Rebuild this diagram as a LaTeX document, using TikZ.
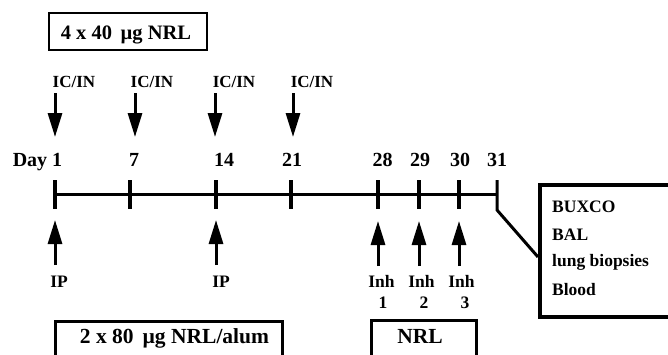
\documentclass[tikz,border=0pt]{standalone}
\usepackage{fontspec}
\setmainfont{Liberation Serif}
\usetikzlibrary{arrows.meta}
\tikzset{
  lbl/.style={inner sep=0pt, font=\bfseries\fontsize{17}{17}\selectfont, anchor=base},
  small/.style={inner sep=0pt, font=\bfseries\fontsize{17.5}{17.5}\selectfont, anchor=base},
  daylbl/.style={inner sep=0pt, font=\bfseries\fontsize{20}{20}\selectfont, anchor=base},
  boxtxt/.style={inner sep=0pt, font=\bfseries\fontsize{21.5}{21.5}\selectfont, anchor=base},
  res/.style={inner sep=0pt, font=\bfseries\fontsize{17.5}{17.5}\selectfont, anchor=base west},
  darrow/.style={line width=3pt, -{Triangle[width=14pt,length=24pt]}},
  tick/.style={line width=4pt},
}
\begin{document}
\begin{tikzpicture}[x=1pt,y=-1pt]
\useasboundingbox (0,0) rectangle (668,354);
\clip (0,0) rectangle (668,354);
% top box
\node[draw, line width=2pt, minimum width=158pt, minimum height=37pt, inner sep=0pt] (topbox) at (128,31.5) {};
\node[boxtxt, font=\bfseries\fontsize{20.5}{20.5}\selectfont] (toptxt) at (126,39) {4 x 40 \,µg NRL};
% IC/IN labels
\node[lbl] (ic1) at (74,87) {IC/IN};
\node[lbl] (ic2) at (152,87) {IC/IN};
\node[lbl] (ic3) at (234,87) {IC/IN};
\node[lbl] (ic4) at (312,87) {IC/IN};
% top arrows
\foreach \i/\x in {1/55,2/135,3/215,4/293}{
  \coordinate (as\i) at (\x,93);
  \coordinate (ae\i) at (\x,137);
  \draw[darrow] (as\i) -- (ae\i);
}
% day labels
\node[daylbl] (day1) at (37.5,166) {Day 1};
\node[daylbl] (day7) at (134,166) {7};
\node[daylbl] (day14) at (224,166) {14};
\node[daylbl] (day21) at (292,166) {21};
\node[daylbl] (day28) at (382.5,166) {28};
\node[daylbl] (day29) at (420,166) {29};
\node[daylbl] (day30) at (460,166) {30};
\node[daylbl] (day31) at (497,166) {31};
% timeline
\coordinate (t1) at (55,194);
\coordinate (t31) at (497,194);
\draw[line width=3pt] (t1) -- (t31);
\foreach \n/\x in {a/55,b/130,c/216,d/291,e/378,f/419,g/459}{
  \coordinate (k\n1) at (\x,180);
  \coordinate (k\n2) at (\x,209);
  \draw[tick] (k\n1) -- (k\n2);
}
% result box
\node[draw, line width=4pt, minimum width=180pt, minimum height=132pt, inner sep=0pt, anchor=north west] (resbox) at (538,183) {};
\coordinate (k31a) at (497,180);
\coordinate (k31b) at (497,210);
\coordinate (bend) at (538,257);
\draw[line width=3pt, line join=miter] (k31a) -- (k31b) -- (bend);
\node[res] (r1) at (552,212) {BUXCO};
\node[res] (r2) at (552,240) {BAL};
\node[res] (r3) at (552,266) {lung biopsies};
\node[res] (r4) at (552,295) {Blood};
% bottom arrows
\foreach \i/\x in {1/55,2/216}{
  \coordinate (bs\i) at (\x,265);
  \coordinate (be\i) at (\x,220);
  \draw[darrow] (bs\i) -- (be\i);
}
\foreach \i/\x in {3/378,4/419,5/459}{
  \coordinate (bs\i) at (\x,266);
  \coordinate (be\i) at (\x,221);
  \draw[darrow] (bs\i) -- (be\i);
}
\node[small] (ip1) at (59,287) {IP};
\node[small] (ip2) at (221,287) {IP};
\node[small] (inh1) at (381.5,287) {Inh};
\node[small] (inh2) at (421.5,287) {Inh};
\node[small] (inh3) at (461.5,287) {Inh};
\node[small] (n1) at (383,308) {1};
\node[small] (n2) at (424,308) {2};
\node[small] (n3) at (465,308) {3};
% bottom boxes
\node[draw, line width=2.5pt, minimum width=227pt, minimum height=60pt, inner sep=0pt, anchor=north west] (ipbox) at (54,320) {};
\node[boxtxt] (iptxt) at (174.5,343) {2 x 80 \,µg NRL/alum};
\node[draw, line width=2.5pt, minimum width=105pt, minimum height=60pt, inner sep=0pt, anchor=north west] (inhbox) at (370,319) {};
\node[boxtxt] (inhtxt) at (420,343) {NRL};
\end{tikzpicture}
\end{document}
